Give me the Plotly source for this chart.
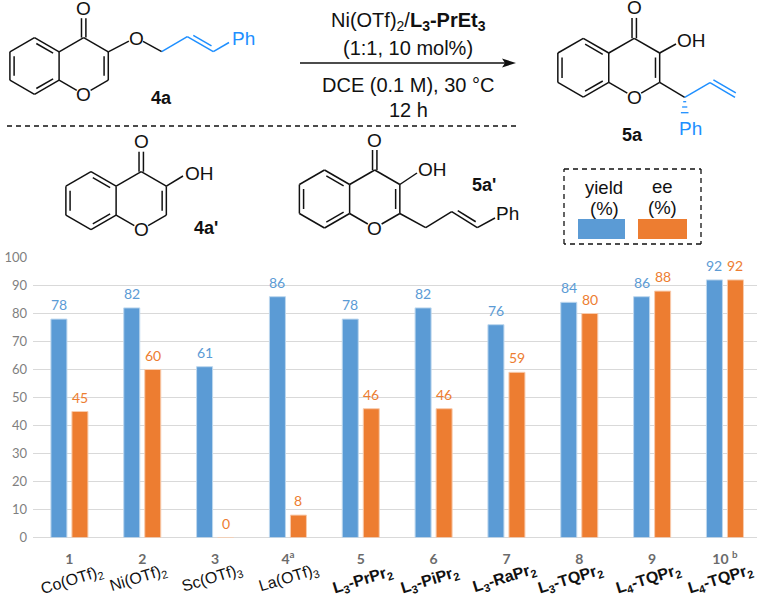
import plotly.graph_objects as go

entries = ["1", "2", "3", "4<sup>a</sup>", "5", "6", "7", "8", "9", "10 <sup>b</sup>"]
catalysts = ["Co(OTf)<sub>2</sub>", "Ni(OTf)<sub>2</sub>", "Sc(OTf)<sub>3</sub>", "La(OTf)<sub>3</sub>",
             "<b>L<sub>3</sub>-PrPr<sub>2</sub></b>", "<b>L<sub>3</sub>-PiPr<sub>2</sub></b>",
             "<b>L<sub>3</sub>-RaPr<sub>2</sub></b>", "<b>L<sub>3</sub>-TQPr<sub>2</sub></b>",
             "<b>L<sub>4</sub>-TQPr<sub>2</sub></b>", "<b>L<sub>4</sub>-TQPr<sub>2</sub></b>"]
yield_pct = [78, 82, 61, 86, 78, 82, 76, 84, 86, 92]
ee_pct = [45, 60, 0, 8, 46, 46, 59, 80, 88, 92]
y_ticks = [0, 10, 20, 30, 40, 50, 60, 70, 80, 90, 100]

W, H = 757, 597
BLUE, ORANGE = "#5B9BD5", "#ED7D31"
HL = "#1E8FFF"
SANS = "Liberation Sans, Arial, sans-serif"
CHART = "Lato, sans-serif"

shapes, annots = [], []


def X(x):
    return x / W


def Y(y):
    return 1 - y / H


def line(p, q, color="#111111", width=1.5, dash=None, t0=0.0, t1=0.0):
    dx, dy = q[0] - p[0], q[1] - p[1]
    d = (dx * dx + dy * dy) ** 0.5
    a = (p[0] + dx * t0 / d, p[1] + dy * t0 / d)
    b = (q[0] - dx * t1 / d, q[1] - dy * t1 / d)
    ln = dict(color=color, width=width)
    if dash:
        ln["dash"] = dash
    shapes.append(dict(type="line", xref="paper", yref="paper", x0=X(a[0]), y0=Y(a[1]),
                       x1=X(b[0]), y1=Y(b[1]), line=ln))


def text(x, y, s, size=20, color="#111111", bold=False, angle=0, font=SANS):
    annots.append(dict(xref="paper", yref="paper", x=X(x), y=Y(y), text=f"<b>{s}</b>" if bold else s,
                       showarrow=False, xanchor="center", yanchor="middle", textangle=angle,
                       font=dict(family=font, size=size, color=color)))


def inner(p, q, side, off=4.2, trim=4.5, **kw):
    dx, dy = q[0] - p[0], q[1] - p[1]
    d = (dx * dx + dy * dy) ** 0.5
    nx, ny = -dy / d * side * off, dx / d * side * off
    line((p[0] + nx, p[1] + ny), (q[0] + nx, q[1] + ny), t0=trim, t1=trim, **kw)


def chromone(cx, cy, b):
    P = lambda u, v: (cx + u * b, cy + v * b)
    top, ur, lr, bot, ll, ul = P(0, -1), P(.866, -.5), P(.866, .5), P(0, 1), P(-.866, .5), P(-.866, -.5)
    c4, c3, c2, o1, oc = P(1.732, -1), P(2.598, -.5), P(2.598, .5), P(1.732, 1), P(1.732, -2)
    for p, q in [(top, ur), (ur, lr), (lr, bot), (bot, ll), (ll, ul), (ul, top), (ur, c4), (c4, c3), (c3, c2)]:
        line(p, q)
    line(lr, o1, t1=8)
    line(c2, o1, t1=8)
    inner(ul, ll, -1)
    inner(top, ur, 1)
    inner(lr, bot, 1)
    inner(c3, c2, 1)
    line((c4[0] - 2.2, c4[1]), (oc[0] - 2.2, oc[1]), t1=9)
    line((c4[0] + 2.2, c4[1]), (oc[0] + 2.2, oc[1]), t1=9)
    text(o1[0], o1[1], "O", 19)
    text(oc[0], oc[1] - 1, "O", 19)
    return c3, c2


# 4a
c3, c2 = chromone(34.5, 66, 28.4)
line(c3, (136, 37.5), t1=8)
text(136, 38, "O", 19)
line((136, 37.5), (161.7, 51.7), t0=8)
line((161.7, 51.7), (187.3, 36.7), color=HL)
line((187.3, 36.7), (213.3, 51.7), color=HL)
inner((187.3, 36.7), (213.3, 51.7), -1, color=HL)
line((213.3, 51.7), (229, 42.5), color=HL)
text(243, 38, "Ph", 19, HL)
text(161, 98, "4a", 18, bold=True)

# 4a'
c3, c2 = chromone(91, 200.7, 29)
line(c3, (183, 176))
text(199.7, 173, "OH", 19)
text(206, 228, "4a'", 18, bold=True)

# 5a'
c3, c2 = chromone(324.5, 199, 29)
line(c3, (417, 173))
text(432.7, 170, "OH", 19)
line(c2, (425.7, 227.7))
line((425.7, 227.7), (451.7, 211.7))
line((451.7, 211.7), (477.3, 227.7))
inner((451.7, 211.7), (477.3, 227.7), -1)
line((477.3, 227.7), (495, 218))
text(507, 214, "Ph", 19)
text(484, 185, "5a'", 18, bold=True)

# 5a
c3, c2 = chromone(583.3, 67.7, 29.4)
line(c3, (676, 44))
text(691, 40, "OH", 19)
sc = (684.7, 97.3)
line(c2, sc)
line(sc, (710, 82.7), color=HL)
line((710, 82.7), (735, 97.3), color=HL)
inner((710, 82.7), (735, 97.3), -1, trim=1.5, color=HL)
for yy, hw in [(101.7, 1.5), (107, 2.6), (112.7, 3.8)]:
    line((684.7 - hw, yy), (684.7 + hw, yy), color=HL, width=1.3)
text(690, 128, "Ph", 19, HL)
text(632, 135, "5a", 18, bold=True)

# reaction arrow and conditions
line((300, 63), (505, 63), width=1.3)
shapes.append(dict(type="path", xref="paper", yref="paper",
                   path=f"M {X(516)} {Y(63)} L {X(502)} {Y(58.5)} L {X(505)} {Y(63)} L {X(502)} {Y(67.5)} Z",
                   fillcolor="#111111", line=dict(width=0)))
text(408, 22, "Ni(OTf)<sub>2</sub>/<b>L<sub>3</sub>-PrEt<sub>3</sub></b>", 20)
text(408, 48, "(1:1, 10 mol%)", 20)
text(408, 85, "DCE (0.1 M), 30 °C", 20)
text(408, 110, "12 h", 20)
line((7, 126), (517, 126), width=1.3, dash="5px,4px")

# legend box
for p, q in [((564, 169), (701, 169)), ((701, 169), (701, 244)), ((701, 244), (564, 244)), ((564, 244), (564, 169))]:
    line(p, q, width=1.3, dash="5px,4px")
for x0, x1, col in [(578, 625, BLUE), (638, 687, ORANGE)]:
    shapes.append(dict(type="rect", xref="paper", yref="paper", x0=X(x0), x1=X(x1), y0=Y(239), y1=Y(219),
                       fillcolor=col, line=dict(width=0)))
text(604, 187, "yield", 18.5)
text(604, 209, "(%)", 18.5)
text(662, 186, "ee", 18.5)
text(662, 207, "(%)", 18.5)

# rotated catalyst labels
label_pos = [(72, 580), (138, 578), (212, 578), (288, 578), (362, 580),
             (430, 580), (504, 578), (570, 579), (648, 579), (720, 579)]
for (lx, ly), lab in zip(label_pos, catalysts):
    text(lx, ly, lab, 16, angle=-17)

# value labels
for i, (a, b) in enumerate(zip(yield_pct, ee_pct)):
    for v, col, shift in [(a, BLUE, -10.5), (b, ORANGE, 10.5)]:
        annots.append(dict(x=i, y=v, xref="x", yref="y", text=str(v), showarrow=False, xshift=shift,
                           yshift=14.5, yanchor="middle", font=dict(family=CHART, size=14, color=col)))

xs = list(range(len(entries)))
fig = go.Figure()
fig.add_bar(x=xs, y=yield_pct, name="yield (%)", marker=dict(color=BLUE, line=dict(color="#BDD7EE", width=1)))
fig.add_bar(x=xs, y=ee_pct, name="ee (%)", marker=dict(color=ORANGE, line=dict(color="#F8CBAD", width=1)))
fig.update_layout(
    width=W, height=H, autosize=False, margin=dict(l=0, r=0, t=0, b=0),
    paper_bgcolor="white", plot_bgcolor="white", showlegend=False,
    barmode="group", bargap=0.423, bargroupgap=0.238,
    shapes=shapes, annotations=annots,
    xaxis=dict(domain=[33 / W, 1], range=[-0.5, 9.44], tickmode="array", tickvals=xs, automargin=False,
               ticktext=[f"<b>{e}</b>" for e in entries], ticks="", showgrid=False, zeroline=False,
               showline=False, ticklabelstandoff=11, tickangle=0,
               tickfont=dict(family=CHART, size=14, color="#6b6b6b")),
    yaxis=dict(domain=[Y(537.5), Y(257.5)], range=[0, 100], tickmode="array", tickvals=y_ticks, automargin=False,
               ticks="", showgrid=True, gridcolor="#D9D9D9", gridwidth=1.3, zeroline=True,
               zerolinecolor="#D9D9D9", zerolinewidth=1.3, showline=False, ticklabelstandoff=5,
               tickfont=dict(family=CHART, size=13, color="#7f7f7f")),
)
fig.write_html("out.html", config=dict(displayModeBar=False),
               post_script="document.documentElement.style.overflow='hidden';document.body.style.margin='0';")
